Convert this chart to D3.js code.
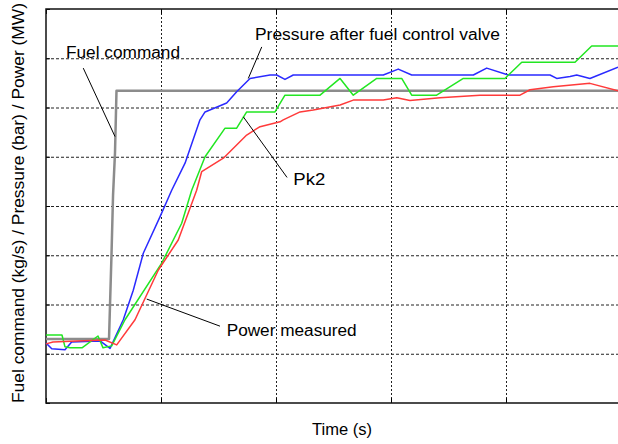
<!DOCTYPE html>
<html>
<head>
<meta charset="utf-8">
<script src="https://cdn.jsdelivr.net/npm/d3@7"></script>
<style>
  body { margin: 0; background: #fff; }
  text { font-family: "Liberation Sans", Arial, sans-serif; fill: #000; }
</style>
</head>
<body>
<div id="chart-area"></div>
<script>
// time (s) grid and value grid, no numbers printed on the axes
var xTicks = [0, 10, 20, 30, 40, 50];
var yTicks = [0, 1, 2, 3, 4, 5, 6, 7, 8];

// [time, value]
var fuelCommand = [
  [0, 1.30], [5.48, 1.30], [5.70, 3.05], [5.83, 4.22], [6.00, 5.08],
  [6.13, 6.34], [50, 6.34]
];

var pressureValve = [
  [0, 1.22], [0.50, 1.10], [1.65, 1.08], [2.23, 1.24], [4.70, 1.26],
  [5.57, 1.11], [6.72, 1.69], [7.59, 2.29], [8.46, 3.04], [9.91, 3.78],
  [10.93, 4.32], [12.09, 4.87], [13.39, 5.75], [13.83, 5.91], [15.71, 6.09],
  [16.58, 6.32], [17.74, 6.59], [19.48, 6.66], [20.06, 6.66], [20.78, 6.57],
  [21.50, 6.66], [29.33, 6.66], [30.63, 6.78], [31.80, 6.66], [37.16, 6.66],
  [38.32, 6.80], [40.20, 6.66], [43.83, 6.66], [44.41, 6.59], [45.57, 6.63],
  [46.15, 6.66], [47.30, 6.59], [49.74, 6.82]
];

var pk2 = [
  [0, 1.38], [1.39, 1.38], [1.65, 1.14], [2.09, 1.12], [3.13, 1.12],
  [4.52, 1.36], [4.96, 1.12], [5.71, 1.16], [6.87, 1.69], [10.06, 2.84],
  [11.80, 3.65], [12.67, 4.32], [13.83, 5.00], [15.57, 5.58], [16.58, 5.58],
  [17.45, 5.91], [19.91, 5.91], [20.78, 6.25], [23.83, 6.25], [25.57, 6.59],
  [26.72, 6.25], [28.76, 6.59], [30.93, 6.59], [31.80, 6.25], [33.97, 6.25],
  [36.29, 6.59], [39.91, 6.59], [41.37, 6.92], [46.00, 6.92], [47.45, 7.25],
  [50, 7.25]
];

var powerMeasured = [
  [0, 1.20], [0.61, 1.24], [2.67, 1.26], [5.13, 1.28], [6.15, 1.18],
  [7.74, 1.69], [9.77, 2.70], [11.50, 3.31], [13.10, 4.32], [13.54, 4.70],
  [15.42, 4.97], [17.45, 5.44], [18.61, 5.61], [20.35, 5.71], [20.63, 5.75],
  [22.09, 5.91], [23.24, 5.95], [25.57, 6.05], [26.72, 6.15], [29.33, 6.15],
  [30.50, 6.20], [31.65, 6.14], [34.26, 6.20], [37.74, 6.25], [41.22, 6.25],
  [42.09, 6.36], [44.11, 6.42], [47.30, 6.49], [49.74, 6.34]
];

var series = [
  { name: "Fuel command", data: fuelCommand, color: "#8c8c8c", width: 2.5 },
  { name: "Pressure after fuel control valve", data: pressureValve, color: "#2a2aff", width: 1.5 },
  { name: "Pk2", data: pk2, color: "#22e622", width: 1.5 },
  { name: "Power measured", data: powerMeasured, color: "#ff3a3a", width: 1.5 }
];

// callouts: label anchor and leader line, in data units
var notes = [
  { text: "Fuel command", at: [1.74, 7.00], len: 114, from: [3.24, 6.80], to: [6.00, 5.41] },
  { text: "Pressure after fuel control valve", at: [18.17, 7.37], len: 245, from: [18.76, 7.23], to: [17.59, 6.59] },
  { text: "Pk2", at: [21.50, 4.43], len: 32, from: [20.96, 4.58], to: [17.16, 5.81] },
  { text: "Power measured", at: [15.71, 1.36], len: 130, from: [15.13, 1.56], to: [8.76, 2.11] }
];

var W = 618, H = 444;
var margin = { top: 9, left: 46, bottom: 41 };
var height = H - margin.top - margin.bottom;

var svg = d3.select("#chart-area")
  .append("svg")
  .attr("width", W)
  .attr("height", H);

var x = d3.scaleLinear().domain([0, 50]).range([margin.left, 621]);
var y = d3.scaleLinear().domain([0, 8]).range([margin.top + height, margin.top]);

// grid
svg.append("g").selectAll("line")
  .data(yTicks.slice(1, -1))
  .enter().append("line")
  .attr("x1", x(0)).attr("x2", x(50))
  .attr("y1", d => y(d) + 0.5).attr("y2", d => y(d) + 0.5)
  .attr("stroke", "#222").attr("stroke-dasharray", "3,2");

svg.append("g").selectAll("line")
  .data(xTicks.slice(1, -1))
  .enter().append("line")
  .attr("x1", d => x(d) + 0.5).attr("x2", d => x(d) + 0.5)
  .attr("y1", y(8)).attr("y2", y(0))
  .attr("stroke", "#222").attr("stroke-dasharray", "2,2");

// inward ticks
svg.append("g")
  .attr("transform", "translate(0," + y(0) + ")")
  .call(d3.axisTop(x).tickValues(xTicks).tickSize(5).tickFormat(""))
  .call(g => g.select(".domain").remove());
svg.append("g")
  .attr("transform", "translate(0," + y(8) + ")")
  .call(d3.axisBottom(x).tickValues(xTicks).tickSize(5).tickFormat(""))
  .call(g => g.select(".domain").remove());
svg.append("g")
  .attr("transform", "translate(" + x(0) + ",0)")
  .call(d3.axisRight(y).tickValues(yTicks).tickSize(4).tickFormat(""))
  .call(g => g.select(".domain").remove());

// frame
svg.append("path")
  .attr("d", "M" + x(50) + "," + y(8) + "H" + x(0) + "V" + y(0) + "H" + x(50))
  .attr("fill", "none")
  .attr("stroke", "#111")
  .attr("stroke-width", 1.5);

var line = d3.line().x(d => x(d[0])).y(d => y(d[1]));

svg.append("g").selectAll("path")
  .data(series)
  .enter().append("path")
  .attr("d", d => line(d.data))
  .attr("fill", "none")
  .attr("stroke", d => d.color)
  .attr("stroke-width", d => d.width)
  .attr("stroke-linejoin", "round");

// callouts
var ng = svg.append("g");
ng.selectAll("line")
  .data(notes)
  .enter().append("line")
  .attr("x1", d => x(d.from[0])).attr("y1", d => y(d.from[1]))
  .attr("x2", d => x(d.to[0])).attr("y2", d => y(d.to[1]))
  .attr("stroke", "#000").attr("stroke-width", 1);
ng.selectAll("text")
  .data(notes)
  .enter().append("text")
  .attr("x", d => x(d.at[0]))
  .attr("y", d => y(d.at[1]))
  .attr("font-size", "16px")
  .attr("textLength", d => d.len)
  .attr("lengthAdjust", "spacingAndGlyphs")
  .text(d => d.text);

// axis titles
svg.append("text")
  .attr("x", 312)
  .attr("y", 435)
  .attr("font-size", "16px")
  .attr("textLength", 60)
  .attr("lengthAdjust", "spacingAndGlyphs")
  .text("Time (s)");

svg.append("text")
  .attr("transform", "translate(24,403) rotate(-90)")
  .attr("font-size", "16px")
  .attr("textLength", 400)
  .attr("lengthAdjust", "spacingAndGlyphs")
  .text("Fuel command (kg/s) / Pressure (bar) / Power (MW)");
</script>
</body>
</html>
